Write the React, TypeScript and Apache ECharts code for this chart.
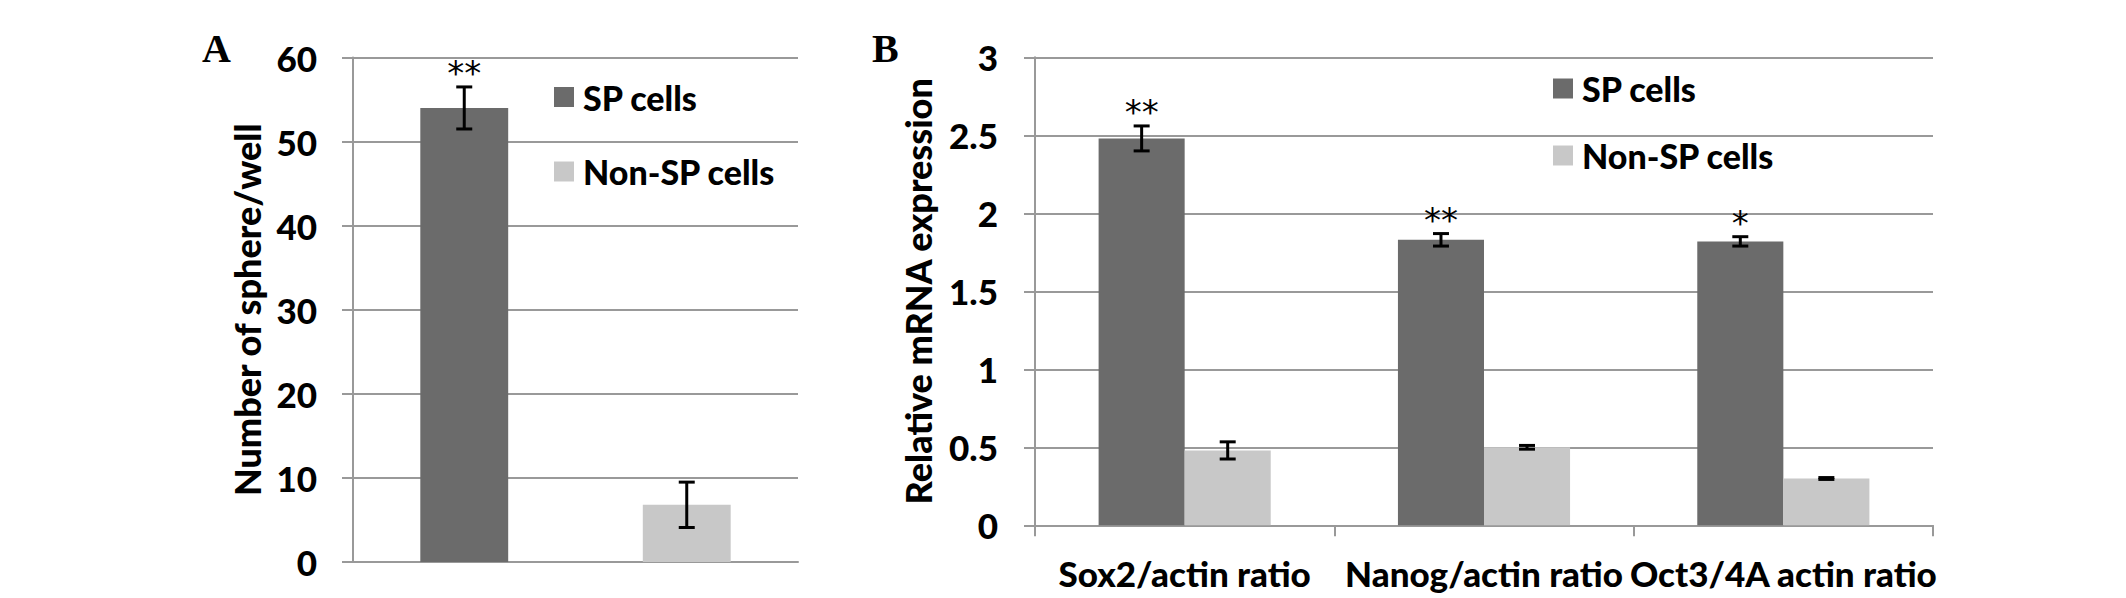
import React, { useEffect, useRef } from "react";
import * as echarts from "echarts";

// Panel A
const categoriesA = ["SP cells", "Non-SP cells"];
const valuesA = [54, 6.8];
const errA = [2.5, 2.7];
const starsA = ["**", ""];
const ticksA = { min: 0, max: 60, interval: 10 };

// Panel B
const categoriesB = ["Sox2/actin ratio", "Nanog/actin ratio", "Oct3/4A actin ratio"];
const spValuesB = [2.48, 1.83, 1.82];
const spErrB = [0.08, 0.04, 0.03];
const nonSpValuesB = [0.48, 0.5, 0.3];
const nonSpErrB = [0.055, 0.012, 0.006];
const starsB = ["**", "**", "*"];
const ticksB = { min: 0, max: 3, interval: 0.5 };

const seriesNames = ["SP cells", "Non-SP cells"];
const DARK = "#6b6b6b";
const LIGHT = "#c8c8c8";
const GRID = "#999999";
const SANS = "Lato";
const WEIGHT = 900;

const B_GAP = 0.425;

function errRender(values: number[], errs: number[], stars: string[], side: number) {
  return (params: any, api: any) => {
    const i = params.dataIndex;
    const v = values[i];
    const e = errs[i];
    const band = api.size([1, 0])[0];
    const off = side === 0 ? 0 : side * band * (1 - B_GAP) / 4;
    const top = api.coord([i, v + e]);
    const bot = api.coord([i, v - e]);
    const cx = top[0] + off;
    const cap = 8;
    const st = { stroke: "#000", lineWidth: 3 };
    const children: any[] = [
      { type: "line", shape: { x1: cx, y1: top[1], x2: cx, y2: bot[1] }, style: st },
      { type: "line", shape: { x1: cx - cap, y1: top[1], x2: cx + cap, y2: top[1] }, style: st },
      { type: "line", shape: { x1: cx - cap, y1: bot[1], x2: cx + cap, y2: bot[1] }, style: st },
    ];
    if (stars[i]) {
      children.push({
        type: "text",
        x: cx,
        y: top[1] - 14,
        style: {
          text: stars[i],
          fontSize: 34,
          fontFamily: "DejaVu Sans",
          fill: "#000",
          align: "center",
          verticalAlign: "middle",
        },
      });
    }
    return { type: "group", children };
  };
}

function legendItem(name: string, left: number, centerY: number) {
  return {
    data: [name],
    left,
    top: centerY - 17,
    orient: "vertical",
    padding: 0,
    itemWidth: 20,
    itemHeight: 20,
    icon: "rect",
    selectedMode: false,
    textStyle: {
      fontFamily: SANS,
      fontWeight: WEIGHT,
      fontSize: 34,
      lineHeight: 34,
      color: "#000",
      padding: [0, 0, 0, 4],
    },
  };
}

const yAxisCommon = (gap: number, name: string, nameGap: number) => ({
  type: "value",
  name,
  nameLocation: "middle",
  nameGap,
  nameTextStyle: { fontFamily: SANS, fontWeight: WEIGHT, fontSize: 36, color: "#000" },
  axisLine: { show: true, lineStyle: { color: GRID, width: 2 } },
  axisTick: { show: true, length: 11, lineStyle: { color: GRID, width: 2 } },
  splitLine: { show: true, lineStyle: { color: GRID, width: 2 } },
  axisLabel: { margin: gap, fontFamily: SANS, fontWeight: WEIGHT, fontSize: 35, color: "#000" },
});

export default function App() {
  const ref = useRef<HTMLDivElement>(null);
  useEffect(() => {
    if (!ref.current) return;
    const chart = echarts.init(ref.current, undefined, { renderer: "svg" });
    const option: any = {
      animation: false,
      backgroundColor: "#fff",
      grid: [
        { left: 353, top: 57.5, width: 445, height: 504.5 },
        { left: 1035, top: 57.3, width: 898, height: 468 },
      ],
      xAxis: [
        {
          type: "category",
          gridIndex: 0,
          data: categoriesA,
          axisLine: { lineStyle: { color: GRID, width: 2 } },
          axisTick: { show: false },
          axisLabel: { show: false },
        },
        {
          type: "category",
          gridIndex: 1,
          data: categoriesB,
          axisLine: { lineStyle: { color: GRID, width: 2 } },
          axisTick: { show: true, length: 11, lineStyle: { color: GRID, width: 2 } },
          axisLabel: {
            interval: 0,
            hideOverlap: false,
            margin: 30,
            fontFamily: SANS,
            fontWeight: WEIGHT,
            fontSize: 35,
            color: "#000",
          },
        },
      ],
      yAxis: [
        { gridIndex: 0, ...ticksA, ...yAxisCommon(36, "Number of sphere/well", 88) },
        { gridIndex: 1, ...ticksB, ...yAxisCommon(37, "Relative mRNA expression", 99) },
      ],
      legend: [
        legendItem(seriesNames[0], 554, 97),
        legendItem(seriesNames[1], 554, 171.5),
        legendItem(seriesNames[0], 1553, 88.5),
        legendItem(seriesNames[1], 1553, 155.5),
      ],
      series: [
        {
          type: "bar",
          name: seriesNames[0],
          xAxisIndex: 0,
          yAxisIndex: 0,
          stack: "a",
          barWidth: "39.5%",
          itemStyle: { color: DARK },
          data: valuesA.map((v, i) => (i === 0 ? v : "-")),
        },
        {
          type: "bar",
          name: seriesNames[1],
          xAxisIndex: 0,
          yAxisIndex: 0,
          stack: "a",
          barWidth: "39.5%",
          itemStyle: { color: LIGHT },
          data: valuesA.map((v, i) => (i === 1 ? v : "-")),
        },
        {
          type: "custom",
          xAxisIndex: 0,
          yAxisIndex: 0,
          silent: true,
          z: 10,
          data: valuesA.map((v, i) => [i, v + errA[i]]),
          renderItem: errRender(valuesA, errA, starsA, 0),
        },
        {
          type: "bar",
          name: seriesNames[0],
          xAxisIndex: 1,
          yAxisIndex: 1,
          barGap: "0%",
          barCategoryGap: "42.5%",
          itemStyle: { color: DARK },
          data: spValuesB,
        },
        {
          type: "bar",
          name: seriesNames[1],
          xAxisIndex: 1,
          yAxisIndex: 1,
          barGap: "0%",
          barCategoryGap: "42.5%",
          itemStyle: { color: LIGHT },
          data: nonSpValuesB,
        },
        {
          type: "custom",
          xAxisIndex: 1,
          yAxisIndex: 1,
          silent: true,
          z: 10,
          data: spValuesB.map((v, i) => [i, v + spErrB[i]]),
          renderItem: errRender(spValuesB, spErrB, starsB, -1),
        },
        {
          type: "custom",
          xAxisIndex: 1,
          yAxisIndex: 1,
          silent: true,
          z: 10,
          data: nonSpValuesB.map((v, i) => [i, v + nonSpErrB[i]]),
          renderItem: errRender(nonSpValuesB, nonSpErrB, ["", "", ""], 1),
        },
      ],
      graphic: [
        {
          type: "text",
          left: 202,
          top: 28,
          style: { text: "A", fontFamily: "Liberation Serif", fontWeight: "bold", fontSize: 40, fill: "#000" },
        },
        {
          type: "text",
          left: 872,
          top: 28,
          style: { text: "B", fontFamily: "Liberation Serif", fontWeight: "bold", fontSize: 40, fill: "#000" },
        },
      ],
    };
    chart.setOption(option);
    return () => chart.dispose();
  }, []);
  return (
    <div
      ref={ref}
      style={{ position: "fixed", left: 0, top: 0, width: 2126, height: 598, background: "#fff" }}
    />
  );
}
